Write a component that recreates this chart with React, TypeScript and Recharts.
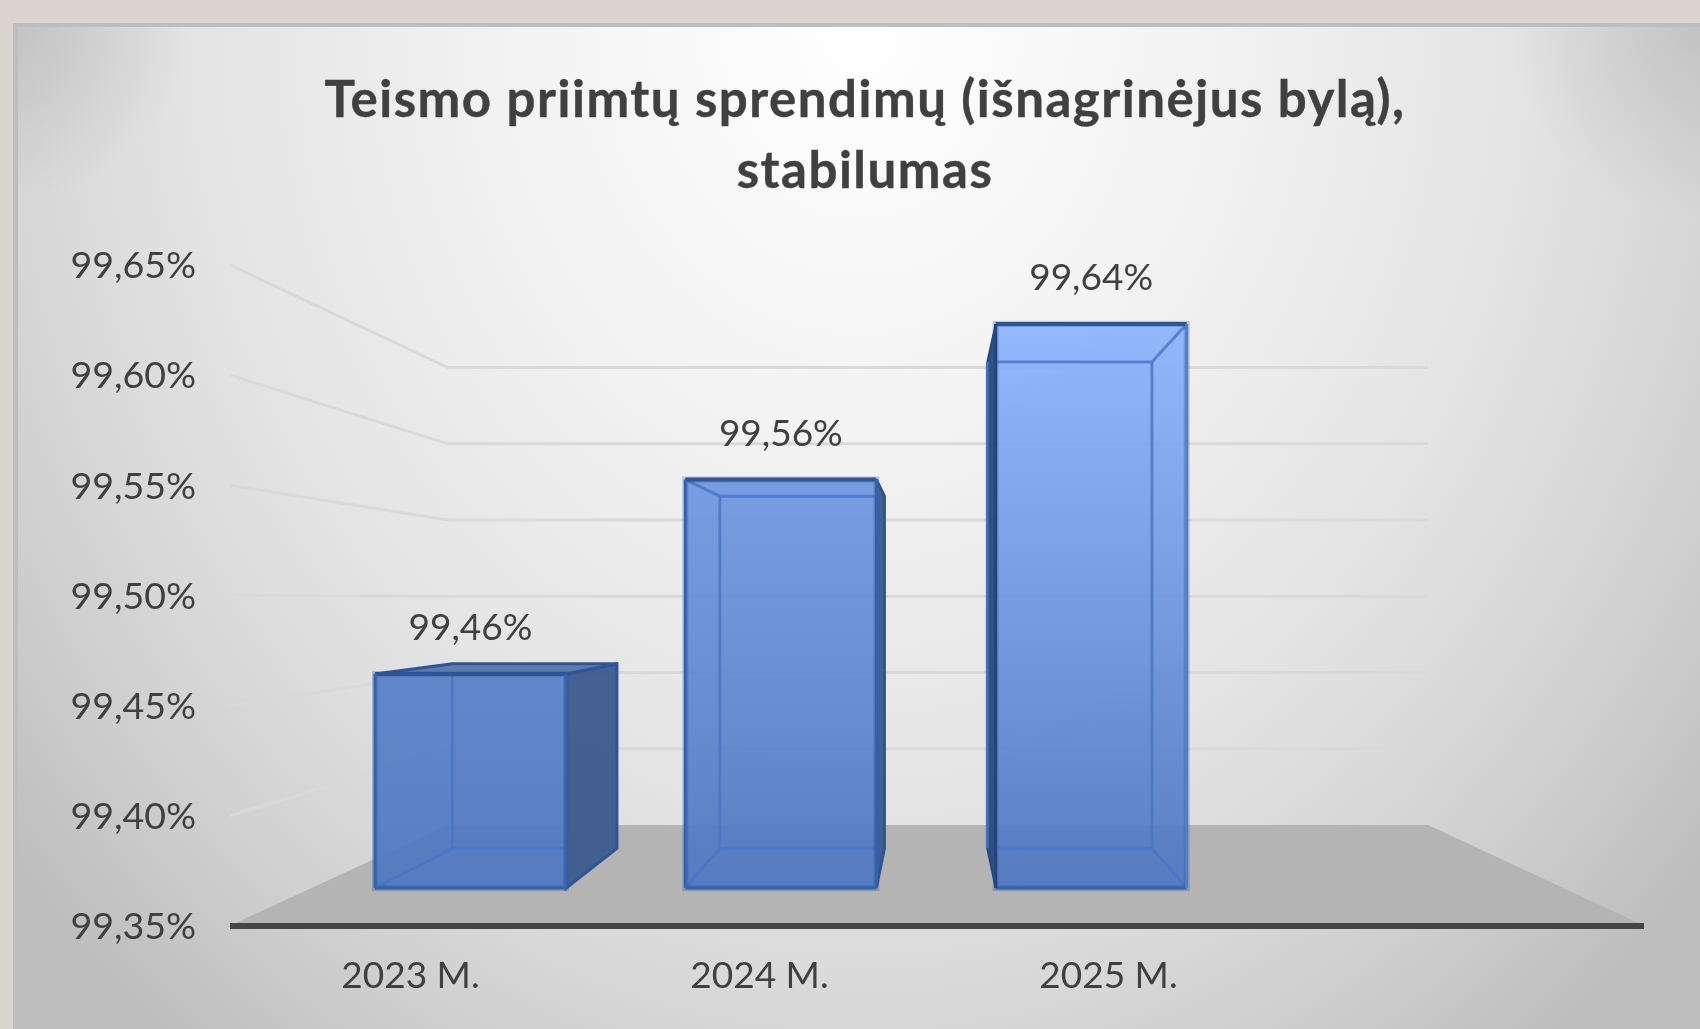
import React from "react";
import { BarChart, Bar, XAxis, YAxis, CartesianGrid, LabelList } from "recharts";

const categories = ["2023 M.", "2024 M.", "2025 M."];
const stability = [99.46, 99.56, 99.64];
const axisTicks = [99.35, 99.4, 99.45, 99.5, 99.55, 99.6, 99.65];
const titleLines = ["Teismo priimtų sprendimų (išnagrinėjus bylą),", "stabilumas"];
const baseValue = 99.35;

const rows = categories.map((name, i) => ({ name, value: stability[i], range: [baseValue, stability[i]] }));

const W = 1700;
const H = 1029;
const PLOT_BOTTOM = 926;
const TEXT = "#404040";
const FONT = "Lato, 'Open Sans', sans-serif";
const fmt = (v: number) => v.toFixed(2).replace(".", ",") + "%";

// perspective of the 3D box
const VP = { x: 935, y: 600 };
const K = 0.138;
const back = (x: number, y: number) => [x + K * (VP.x - x), y + K * (VP.y - y)];

const mix = (a: number[], b: number[], t: number) =>
  `rgb(${a.map((v, i) => Math.round(v + (b[i] - v) * t)).join(",")})`;
const FILL_LOW = [79, 120, 192];
const FILL_HIGH = [140, 179, 251];

const Box3D = (props: any) => {
  const { x, y, width, height, index } = props;
  const l = x, r = x + width, t = y, b = y + height;
  const [bl, bt] = back(l, t);
  const [br, bb] = back(r, b);
  const pts = (a: number[][]) => a.map((p) => p.join(",")).join(" ");
  const dark = "#2F5597";
  const edge = "#3562AC";
  const inner = "#4676C8";
  const rightVisible = br > r;
  const leftVisible = bl < l;
  const topVisible = bt < t;
  const gid = `boxFill${index}`;
  const lift = Math.min(1, Math.pow(height / 564, 2));
  return (
    <g>
      <defs>
        <linearGradient id={gid} x1="0" y1="0" x2="0" y2="1">
          <stop offset="0%" stopColor={mix(FILL_LOW, FILL_HIGH, lift)} />
          <stop offset="100%" stopColor={mix(FILL_LOW, FILL_HIGH, 0)} />
        </linearGradient>
      </defs>
      {/* outer faces */}
      {rightVisible && (
        <polygon points={pts([[r, t], [br, bt], [br, bb], [r, b]])} fill="#3F5C8E" fillOpacity={0.97} stroke={dark} strokeWidth={3} />
      )}
      {leftVisible && (
        <polygon points={pts([[l, t], [bl, bt], [bl, bb], [l, b]])} fill="#2A4A80" fillOpacity={0.97} stroke="#27467C" strokeWidth={2} />
      )}
      {topVisible && (
        <polygon points={pts([[l, t], [bl, bt], [br, bt], [r, t]])} fill="#4E6FA8" fillOpacity={0.9} stroke={dark} strokeWidth={3} />
      )}
      {/* front face */}
      <rect x={l} y={t} width={width} height={height} fill={`url(#${gid})`} fillOpacity={0.93} />
      {/* inner back edges seen through the front */}
      <g stroke={inner} strokeWidth={3} fill="none" strokeOpacity={0.8}>
        <line x1={bl} y1={Math.max(bt, t)} x2={bl} y2={bb} />
        {!rightVisible && <line x1={br} y1={bt} x2={br} y2={bb} />}
        {!topVisible && <line x1={Math.max(bl, l)} y1={bt} x2={Math.min(br, r)} y2={bt} />}
        <line x1={Math.max(bl, l)} y1={bb} x2={Math.min(br, r)} y2={bb} />
        {!leftVisible && <line x1={l} y1={b} x2={bl} y2={bb} />}
        {!rightVisible && <line x1={r} y1={b} x2={br} y2={bb} />}
        {!leftVisible && !topVisible && <line x1={l} y1={t} x2={bl} y2={bt} />}
        {!rightVisible && !topVisible && <line x1={r} y1={t} x2={br} y2={bt} />}
      </g>
      {/* front outline */}
      <rect x={l} y={t} width={width} height={height} fill="none" stroke={dark} strokeOpacity={0.3} strokeWidth={6} />
      <line x1={l} y1={t} x2={r} y2={t} stroke={dark} strokeWidth={4} />
      <line x1={l} y1={b} x2={r} y2={b} stroke={edge} strokeWidth={3} />
      <line x1={l} y1={t} x2={l} y2={b} stroke={leftVisible ? "#26447A" : edge} strokeWidth={3} />
      <line x1={r} y1={t} x2={r} y2={b} stroke={rightVisible ? edge : "#5080CC"} strokeWidth={3} />
    </g>
  );
};

const GridLine = (props: any) => {
  const { x1, x2, y1, key } = props;
  const wallLeft = x1 + 218;
  const wallRight = x2 - 216;
  const floorBackY = 825;
  const wallY = floorBackY - (PLOT_BOTTOM - y1) * 0.692;
  if (y1 >= PLOT_BOTTOM - 1) {
    return (
      <polygon
        key={key}
        points={`${x1},${y1} ${x1 + 12},${y1 - 6} ${wallLeft},${floorBackY} ${wallRight},${floorBackY} ${x2 - 12},${y1 - 6} ${x2},${y1}`}
        fill="#B4B4B4"
      />
    );
  }
  return (
    <polyline
      key={key}
      points={`${x1},${y1} ${wallLeft},${wallY} ${wallRight},${wallY}`}
      fill="none"
      stroke="#D9D9D9"
      strokeWidth={3}
    />
  );
};

const NoMark = () => null;

export default function App() {
  return (
    <div style={{ position: "absolute", left: 0, top: 0, width: W, height: H, background: "#D9D5CE", overflow: "hidden" }}>
      <div
        style={{
          position: "absolute",
          left: 13,
          top: 23,
          right: 0,
          bottom: 0,
          borderLeft: "5px solid #BEBEBE",
          borderTop: "4px solid #BEBEBE",
          background:
            "radial-gradient(circle 170px at 0 0, rgba(175,175,175,0.5), rgba(175,175,175,0)), radial-gradient(circle 190px at 100% 0, rgba(175,175,175,0.5), rgba(175,175,175,0)), radial-gradient(ellipse 1100px 1300px at 50% 0%, #FFFFFF 0%, #F2F2F2 33%, #E4E4E4 60%, #DBDBDB 72%, #CFCFCF 85%, #BEBEBE 100%)",
        }}
      />
      <div style={{ position: "absolute", left: 0, top: 0, width: W, height: H, filter: "blur(0.5px)" }}>
        <div
          style={{
            position: "absolute",
            left: 0,
            top: 62,
            width: 1730,
            textAlign: "center",
            fontFamily: FONT,
            fontWeight: 700,
            fontSize: 51,
            letterSpacing: 1.5,
            lineHeight: "71px",
            color: TEXT,
            WebkitTextStroke: "0.4px #404040",
          }}
        >
          {titleLines.map((t) => (
            <div key={t}>{t}</div>
          ))}
        </div>
        <BarChart
          width={W}
          height={H}
          data={rows}
          margin={{ top: 265, right: 56, bottom: 0, left: 0 }}
          style={{ position: "absolute", left: 0, top: 0 }}
        >
          <CartesianGrid xAxisId="labels" yAxisId="ticks" vertical={false} horizontal={GridLine as any} />
          <XAxis
            xAxisId="labels"
            dataKey="name"
            height={103}
            padding={{ left: 6, right: 361 }}
            axisLine={{ stroke: "#454545", strokeWidth: 6 }}
            tickLine={false}
            tickMargin={30}
            tick={{ fill: TEXT, fontFamily: FONT, fontSize: 37 }}
          />
          <XAxis xAxisId="bars" dataKey="name" hide height={0} padding={{ left: 85, right: 398 }} />
          <YAxis
            yAxisId="ticks"
            width={230}
            domain={[99.35, 99.65]}
            ticks={axisTicks}
            interval={0}
            allowDataOverflow
            axisLine={false}
            tickLine={false}
            tickSize={0}
            tickMargin={34}
            tickFormatter={fmt}
            tick={{ fill: TEXT, fontFamily: FONT, fontSize: 37.5 }}
          />
          <YAxis yAxisId="bars" hide width={0} domain={[99.3305, 99.6703]} allowDataOverflow />
          <Bar
            xAxisId="labels"
            yAxisId="ticks"
            dataKey="value"
            shape={NoMark as any}
            legendType="none"
            isAnimationActive={false}
          />
          <Bar
            xAxisId="bars"
            yAxisId="bars"
            dataKey="range"
            barSize={191}
            shape={Box3D as any}
            isAnimationActive={false}
          >
            <LabelList
              dataKey="value"
              position="top"
              offset={34}
              formatter={(v: any) => fmt(Number(v))}
              style={{ fill: TEXT, fontFamily: FONT, fontSize: 37 }}
            />
          </Bar>
        </BarChart>
      </div>
    </div>
  );
}
